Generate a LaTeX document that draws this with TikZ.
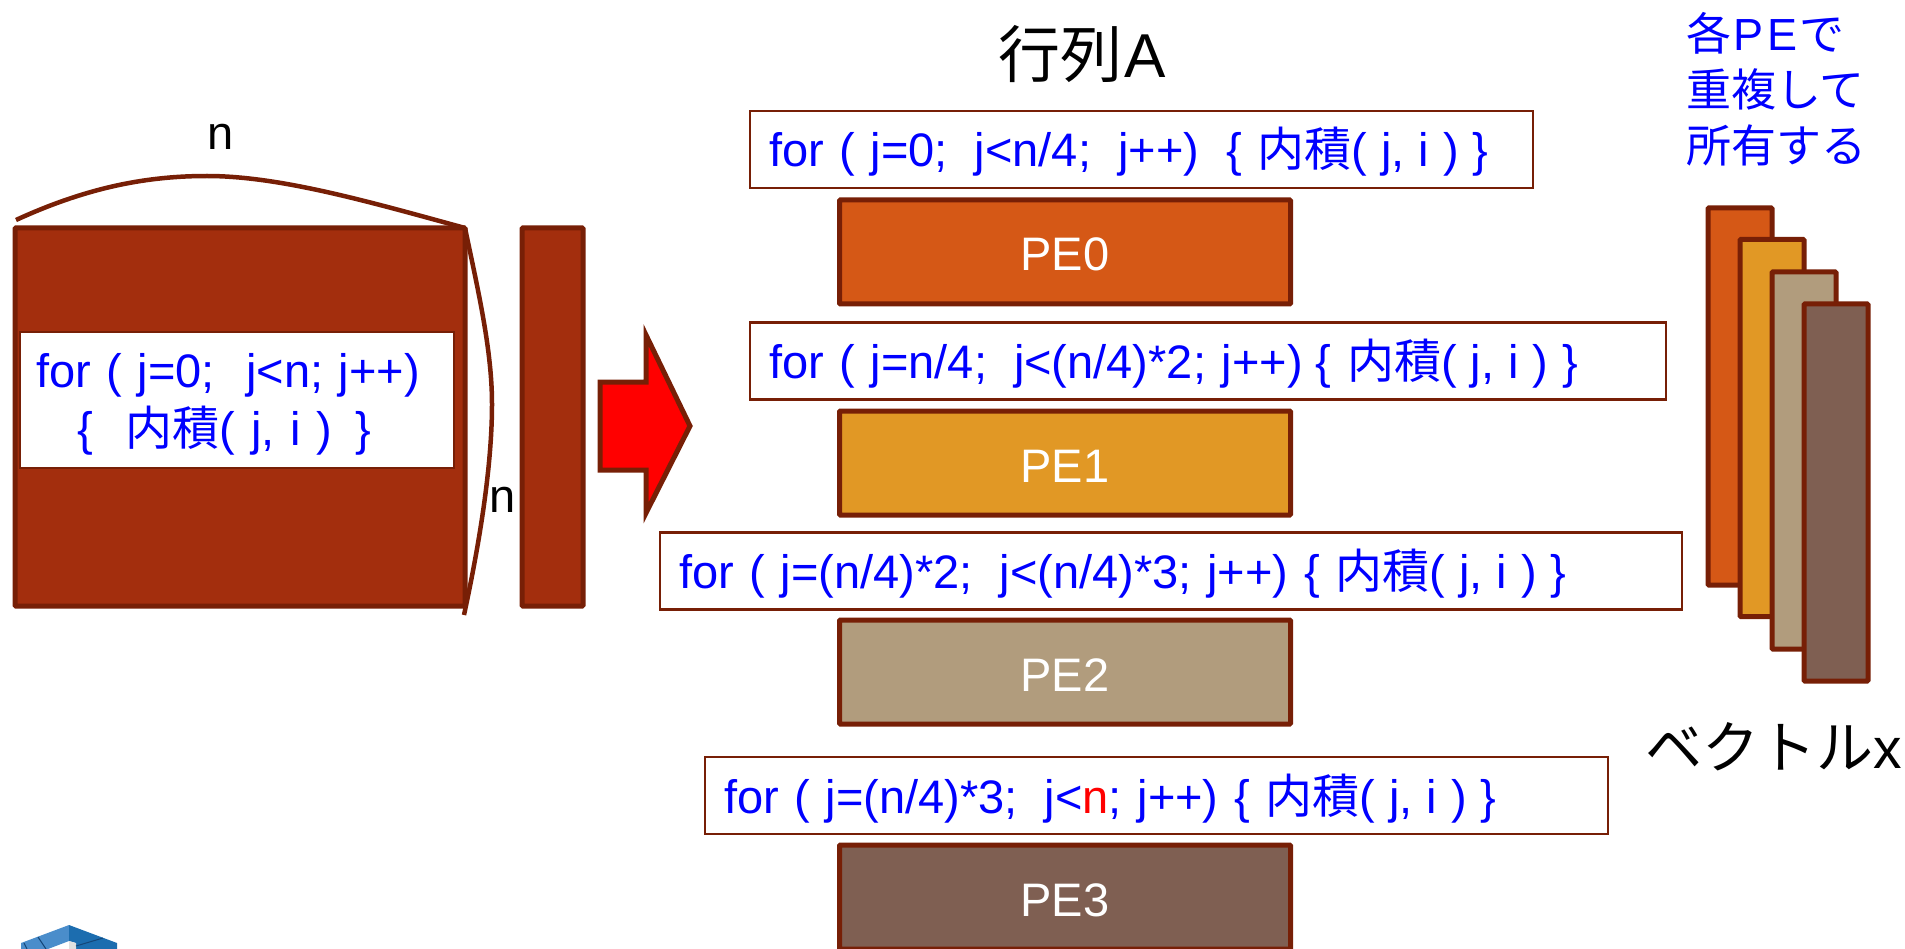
\documentclass[tikz,border=0pt]{standalone}
\usepackage{fontspec}
\setmainfont{Liberation Sans}
\newfontfamily\cjk{Noto Sans CJK JP}
\definecolor{edge}{HTML}{771F06}
\definecolor{mat}{HTML}{A32E0D}
\definecolor{pea}{HTML}{D55816}
\definecolor{peb}{HTML}{E19825}
\definecolor{pec}{HTML}{B19C7D}
\definecolor{ped}{HTML}{7F5F52}
\definecolor{codeblue}{HTML}{0000FF}
\newcommand{\sz}[2][]{\fontsize{#2}{#2}\selectfont}
\newcommand{\nai}{{\cjk 内積}}
\newcommand{\dsp}{\hspace{27pt}}
\newcommand{\tailsp}{\hspace{14pt}}
\newcommand{\tailx}{\nai(\tailsp j,\tailsp i\tailsp)\tailsp\}}
\tikzset{
  x=1pt,y=-1pt,
  block/.style={draw=edge,line width=5pt,rounded corners=1pt,inner sep=0pt,outer sep=0pt,minimum width=451pt,minimum height=104pt,text=white,font=\sz{47},text height=71pt,text depth=33pt},
  matblock/.style={draw=edge,fill=mat,line width=5pt,rounded corners=1pt,inner sep=0pt,outer sep=0pt},
  vec/.style={draw=edge,line width=5pt,rounded corners=1pt,inner sep=0pt,outer sep=0pt,minimum width=64pt,minimum height=377pt},
  codebox/.style={draw=edge,fill=white,line width=2.4pt,inner ysep=0pt,inner xsep=19pt,text height=56pt,text depth=21pt,align=left,text=codeblue,font=\sz{47}},
  lab/.style={inner sep=0pt,font=\sz{47},anchor=base},
  curve/.style={draw=edge,line width=4.5pt},
}
\begin{document}
\begin{tikzpicture}
\clip (0,0) rectangle (1905,949);
% matrix and vector
\node[matblock,minimum width=450pt,minimum height=378pt] (M) at (240,417) {};
\node[draw=edge,fill=white,line width=2.4pt,inner ysep=0pt,inner xsep=0pt,text width=434pt,text height=55pt,text depth=81pt,text=codeblue,font=\fontsize{47}{58}\selectfont,align=left] (mtext) at (237,400) {\hspace*{16pt}for ( j=0;\ \ j<n; j++)\\\hspace*{57pt}\{\hspace{33pt}\nai( j, i )\hspace{24pt}\}};
\node[matblock,minimum width=61pt,minimum height=378pt] (V) at (552.5,417) {};
% braces
\coordinate (t0) at (16,220);
\coordinate (r1) at (464,615);
\draw[curve] (t0) .. controls (90,186) and (150,176) .. (207,176) .. controls (280,176) and (370,202) .. (M.north east);
\draw[curve] (M.north east) .. controls (478,290) and (492,350) .. (492,404) .. controls (492,470) and (478,550) .. (r1);
\node[lab] (ntop) at (221,150) {n};
\node[lab] (nright) at (503,512) {n};
% arrow
\draw[draw=edge,fill=red,line width=5pt,miter limit=10] (600,382) -- (646,382) -- (646,335) -- (690,426) -- (646,513) -- (646,470) -- (600,470) -- cycle;
% title
\node[lab,font=\sz{62}] (title) at (1082,78) {{\cjk 行列}\hspace{2pt}A};
% code boxes and PEs
\node[codebox,text width=745pt] (c0) at (1141.5,149.5) {for ( j=0;\dsp j<n/4;\dsp j++)\dsp\{ \tailx};
\node[block,fill=pea] (p0) at (1065,252) {PE0};
\node[codebox,text width=878pt] (c1) at (1208,361) {for ( j=n/4;\dsp j<(n/4)*2; j++)\hspace{13pt}\{ \tailx};
\node[block,fill=peb] (p1) at (1065,463) {PE1};
\node[codebox,text width=984pt] (c2) at (1171,571) {for ( j=(n/4)*2;\dsp j<(n/4)*3; j++) \{ \tailx};
\node[block,fill=pec] (p2) at (1065,672) {PE2};
\node[codebox,text width=865pt] (c3) at (1156.5,795.5) {for ( j=(n/4)*3;\dsp j<\textcolor{red}{n}; j++) \{ \tailx};
\node[block,fill=ped] (p3) at (1065,897) {PE3};
% vector x
\node[vec,fill=pea] (v0) at (1740,396.5) {};
\node[vec,fill=peb] (v1) at (1772,428) {};
\node[vec,fill=pec] (v2) at (1804,460.5) {};
\node[vec,fill=ped] (v3) at (1836,492.5) {};
\node[inner sep=0pt,anchor=north west,text=codeblue,font=\fontsize{45}{56}\selectfont,align=left] (note) at (1686,12) {{\cjk 各}\hspace{2pt}P\hspace{4pt}E\hspace{2pt}{\cjk で}\\{\cjk 重複して}\\{\cjk 所有する}};
\node[lab,font=\sz{57}] (vlabel) at (1774,768) {{\cjk ベクトル}x};
% logo
\fill[color={rgb,255:red,74;green,141;blue,203}] (21,943) -- (69,925) -- (69,941) -- (48,949) -- (21,949) -- cycle;
\fill[color={rgb,255:red,28;green,109;blue,175}] (69,925) -- (117,943) -- (117,949) -- (76,949) -- (76,943) -- (69,941) -- cycle;
\fill[color={rgb,255:red,224;green,224;blue,224}] (69,941) -- (76,943) -- (76,949) -- (69,949) -- cycle;
\draw[color={rgb,255:red,20;green,70;blue,120},line width=1pt] (38,937) -- (46,949) (24,943) -- (27,949) (76,946) -- (103,938);
\end{tikzpicture}
\end{document}
